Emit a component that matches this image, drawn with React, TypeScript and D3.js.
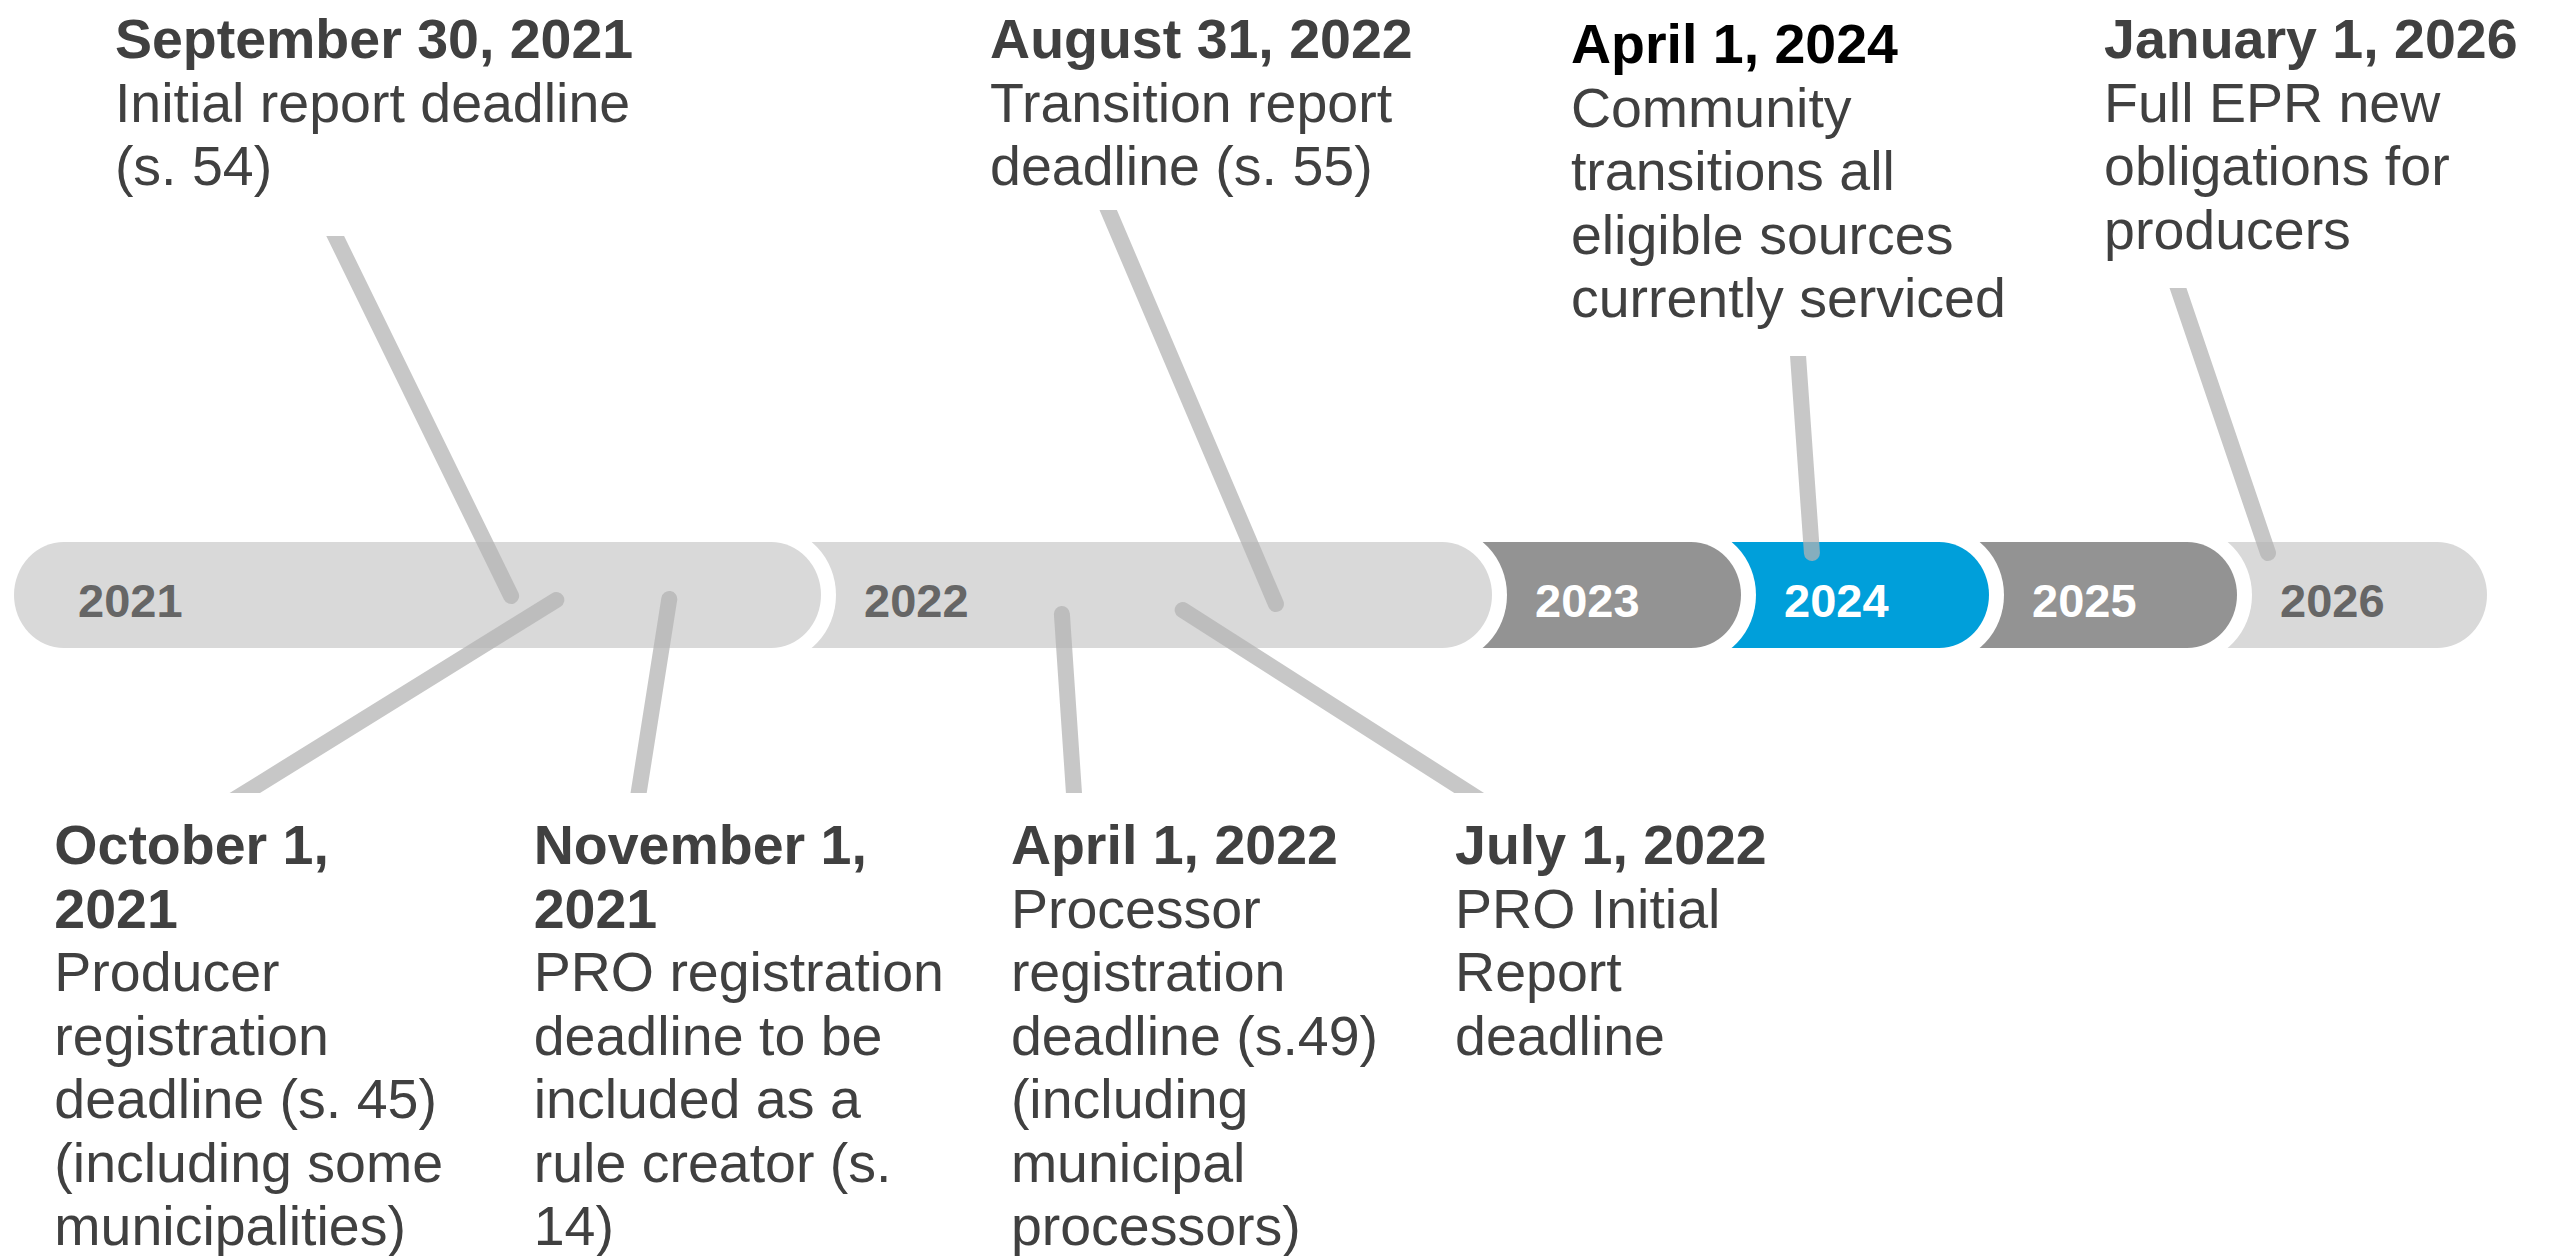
import React from "react";
import * as d3 from "d3";

// timeline years and the one that is highlighted
const years = [2021, 2022, 2023, 2024, 2025, 2026];
const highlightYear = 2024;

// milestones
const eventTitles = [
  ["September 30, 2021"],
  ["October 1,", "2021"],
  ["November 1,", "2021"],
  ["August 31, 2022"],
  ["April 1, 2022"],
  ["July 1, 2022"],
  ["April 1, 2024"],
  ["January 1, 2026"],
];
const eventNotes = [
  ["Initial report deadline", "(s. 54)"],
  ["Producer", "registration", "deadline (s. 45)", "(including some", "municipalities)"],
  ["PRO registration", "deadline to be", "included as a", "rule creator (s.", "14)"],
  ["Transition report", "deadline (s. 55)"],
  ["Processor", "registration", "deadline (s.49)", "(including", "municipal", "processors)"],
  ["PRO Initial", "Report", "deadline"],
  ["Community", "transitions all", "eligible sources", "currently serviced"],
  ["Full EPR new", "obligations for", "producers"],
];
const eventSide = ["top", "bottom", "bottom", "top", "bottom", "bottom", "top", "top"];
// where each pin touches the timeline (in timeline years)
const eventAt = [2021.616, 2021.672, 2021.812, 2022.678, 2022.359, 2022.539, 2024.286, 2026.124];

// ---- layout (timeline units for x, pixels for y)
const leadAt = [2021.398, 2021.286, 2021.774, 2022.428, 2022.377, 2022.966, 2024.23, 2025.762];
const textAt = [2021.125, 2021.05, 2021.644, 2022.252, 2022.283, 2022.945, 2023.317, 2025.464];
const anchorDy = [1, 5, 4, 9, 19, 15, -42, -42];
const leadY = [236, 793, 793, 210, 793, 793, 356, 288];
const topFirstBaseline = [58, 0, 0, 58, 0, 0, 63, 58];

const W = 2551;
const H = 1256;
const barTop = 542;
const barBottom = 648;
const barMid = (barTop + barBottom) / 2;
const capR = 50;
const gap = 15;
const fontSize = 55.5;
const lineH = 63.5;
const bottomFirstBaseline = 864;
const FONT = "'Liberation Sans', Arial, Helvetica, sans-serif";

const x = d3
  .scaleLinear()
  .domain([2021, 2022, 2023, 2024, 2025, 2026, 2027])
  .range([14, 821, 1492, 1741, 1989, 2237, 2487]);

const eventYear = eventTitles.map((t) => +t.join(" ").match(/(\d{4})/)[1]);

const pill = (a, b, y0, y1, rx) => {
  const ry = (y1 - y0) / 2;
  return `M${a + rx},${y0}H${b - rx}A${rx},${ry} 0 0 1 ${b - rx},${y1}H${a + rx}A${rx},${ry} 0 0 1 ${a + rx},${y0}Z`;
};

const App = () => {
  const segs = years.map((yr, i) => {
    const b = x(yr + 1);
    const a = i === 0 ? x(yr) : x(yr) - 120;
    const hasEvents = eventYear.includes(yr);
    const fill = yr === highlightYear ? "#009fda" : hasEvents ? "#d9d9d9" : "#939393";
    const labelColor = yr === highlightYear || !hasEvents ? "#ffffff" : "#666666";
    const lx = i === 0 ? x(yr) + 64 : x(yr) + 43;
    return { yr, a, b, fill, labelColor, lx };
  });

  return (
    <svg
      width={W}
      height={H}
      viewBox={`0 0 ${W} ${H}`}
      style={{ position: "absolute", left: 0, top: 0, display: "block", background: "#fff" }}
    >
      <rect width={W} height={H} fill="#fff" />
      <defs>
        {eventAt.map((_, i) => (
          <clipPath id={`clip-${i}`} key={i}>
            {eventSide[i] === "top" ? (
              <rect x={0} y={leadY[i]} width={W} height={H - leadY[i]} />
            ) : (
              <rect x={0} y={0} width={W} height={leadY[i]} />
            )}
          </clipPath>
        ))}
      </defs>

      {/* timeline bar, drawn right to left so each end overlaps the next */}
      <g>
        {segs
          .slice()
          .reverse()
          .map((s) => (
            <g key={s.yr}>
              <path d={pill(s.a - gap, s.b + gap, barTop - gap, barBottom + gap, capR + gap)} fill="#fff" />
              <path d={pill(s.a, s.b, barTop, barBottom, capR)} fill={s.fill} />
            </g>
          ))}
        {segs.map((s) => (
          <text
            key={s.yr}
            x={s.lx}
            y={617}
            fontFamily={FONT}
            fontWeight="bold"
            fontSize={47}
            fill={s.labelColor}
          >
            {s.yr}
          </text>
        ))}
      </g>

      {/* leader lines */}
      <g>
        {eventAt.map((at, i) => {
          const x1 = x(at);
          const y1 = barMid + anchorDy[i];
          const x2 = x(leadAt[i]);
          const y2 = leadY[i];
          const dx = x2 - x1;
          const dy = y2 - y1;
          const len = Math.hypot(dx, dy);
          const ext = 30;
          return (
            <line
              key={i}
              x1={x1}
              y1={y1}
              x2={x2 + (dx / len) * ext}
              y2={y2 + (dy / len) * ext}
              stroke="#b4b4b4"
              strokeOpacity={0.74}
              strokeWidth={16}
              strokeLinecap="round"
              clipPath={`url(#clip-${i})`}
            />
          );
        })}
      </g>

      {/* milestone text */}
      <g fontFamily={FONT} fontSize={fontSize}>
        {eventTitles.map((title, i) => {
          const tx = x(textAt[i]);
          const y0 = eventSide[i] === "top" ? topFirstBaseline[i] : bottomFirstBaseline;
          const headColor = eventYear[i] === highlightYear ? "#000000" : "#404040";
          const lines = [
            ...title.map((t) => ({ t, bold: true })),
            ...eventNotes[i].map((t) => ({ t, bold: false })),
          ];
          return (
            <text key={i} x={tx} y={y0}>
              {lines.map((l, j) => (
                <tspan
                  key={j}
                  x={tx}
                  y={y0 + j * lineH}
                  fontWeight={l.bold ? "bold" : "normal"}
                  fill={l.bold ? headColor : "#404040"}
                >
                  {l.t}
                </tspan>
              ))}
            </text>
          );
        })}
      </g>
    </svg>
  );
};

export default App;
